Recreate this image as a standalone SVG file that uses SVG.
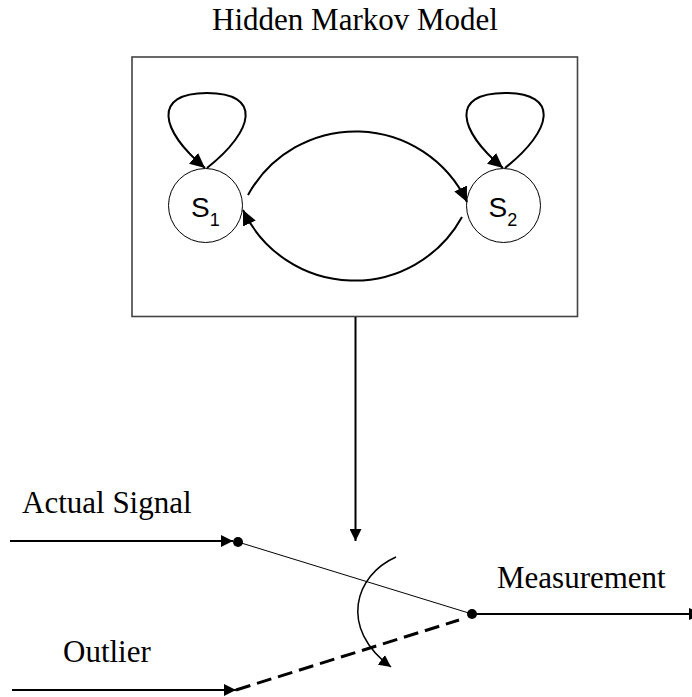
<svg xmlns="http://www.w3.org/2000/svg" width="692" height="697" viewBox="0 0 692 697">
<style>
.lbl{font-family:"Liberation Serif","Times New Roman",serif;font-size:31px;fill:#000}
.st{font-family:"Liberation Sans",Arial,sans-serif;fill:#000}
.ln{fill:none;stroke:#000;stroke-width:2}
.thin{fill:none;stroke:#000;stroke-width:1}
.node{fill:#fff;stroke:#000;stroke-width:1}
</style>
<defs>
<marker id="ah" markerUnits="userSpaceOnUse" markerWidth="15" markerHeight="14" refX="15" refY="7" orient="auto" viewBox="0 0 15 14">
<path d="M0,0 L15,7 L0,14 z" fill="#000"/>
</marker>
<marker id="ahs" markerUnits="userSpaceOnUse" markerWidth="12" markerHeight="12" refX="12" refY="6" orient="auto" viewBox="0 0 12 12">
<path d="M0,0 L12,6 L0,12 z" fill="#000"/>
</marker>
</defs>
<rect width="692" height="697" fill="#fff"/>
<text class="lbl" x="355" y="30" text-anchor="middle">Hidden Markov Model</text>
<g id="hmm-box">
<rect x="132" y="57" width="445.5" height="259.5" fill="none" stroke="#444" stroke-width="1.6"/>
</g>
<g id="s1">
<circle class="node" cx="205.5" cy="205.5" r="37"/>
<text class="st" x="191" y="217" font-size="28">S<tspan font-size="18" dy="9">1</tspan></text>
</g>
<g id="s2">
<circle class="node" cx="503.5" cy="205.5" r="37"/>
<text class="st" x="488.5" y="217" font-size="28">S<tspan font-size="18" dy="9">2</tspan></text>
</g>
<g id="connectors">
<path class="ln" d="M207,168 C255,130 262,93 207,93 C152,93 160,130 205,168" marker-end="url(#ah)"/>
<path class="ln" d="M505,168 C553,130 560,93 505,93 C450,93 458,130 503,168" marker-end="url(#ah)"/>
<path class="ln" d="M248,195 A123,123 0 0 1 467,202" marker-end="url(#ah)"/>
<path class="ln" d="M462,217 A123,123 0 0 1 243,210" marker-end="url(#ah)"/>
<path class="ln" d="M355.5,317 L355.5,541" marker-end="url(#ahs)"/>
<path class="ln" d="M10,541 L233,541" marker-end="url(#ahs)"/>
<path class="thin" d="M238,542 L472,614"/>
<path class="ln" d="M472,614 L689,614"/>
<path d="M689,608 L703,614 L689,620 z" fill="#000"/>
<path class="ln" d="M12,690 L236,690" marker-end="url(#ahs)"/>
<path fill="none" stroke="#000" stroke-width="3" stroke-dasharray="15 7" d="M236,690 L459,620"/>
<path fill="none" stroke="#000" stroke-width="1.5" d="M396,557 C355,575 338,628 391,667" marker-end="url(#ahs)"/>
<circle cx="238" cy="542" r="5" fill="#000"/>
<circle cx="472" cy="614" r="5" fill="#000"/>
</g>
<text class="lbl" x="22" y="513">Actual Signal</text>
<text class="lbl" x="497" y="588">Measurement</text>
<text class="lbl" x="63" y="662">Outlier</text>
</svg>
